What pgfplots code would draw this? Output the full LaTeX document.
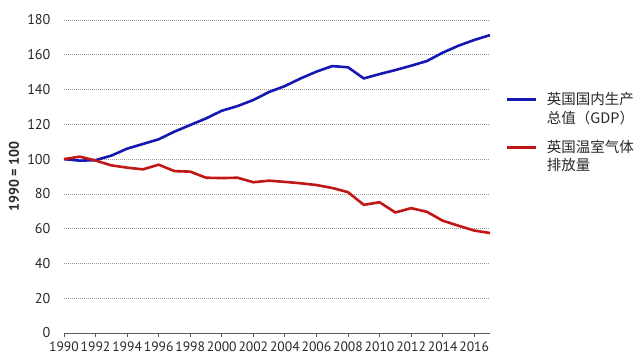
\documentclass[border=0pt]{standalone}
\usepackage{pgfplots}
\pgfplotsset{compat=1.18}
\usepackage{fontspec}
\setmainfont{PT Sans}
\newfontfamily\cjk{Noto Sans CJK SC}
\definecolor{gdpblue}{RGB}{22,22,178}
\definecolor{ghgred}{RGB}{192,22,22}
\definecolor{txt}{RGB}{40,40,40}
\pgfplotstableread{
year gdp ghg
1990 100.0 100.0
1991 99.1 101.4
1992 99.4 99.2
1993 102.0 96.4
1994 106.0 95.1
1995 108.7 94.1
1996 111.4 96.8
1997 115.8 93.1
1998 119.6 92.8
1999 123.4 89.3
2000 127.8 89.1
2001 130.5 89.3
2002 134.0 86.7
2003 138.6 87.6
2004 142.0 86.9
2005 146.4 86.1
2006 150.3 85.1
2007 153.5 83.4
2008 152.8 81.0
2009 146.4 73.7
2010 148.9 75.2
2011 151.2 69.3
2012 153.7 71.8
2013 156.4 69.7
2014 161.2 64.6
2015 165.2 61.7
2016 168.5 58.9
2017 171.3 57.5
}\datatable
\begin{document}
\begin{tikzpicture}
\begin{axis}[
  scale only axis,
  width=426pt, height=313pt,
  xmin=1990, xmax=2017, ymin=0, ymax=180,
  xtick={1990,1992,...,2016},
  ytick={0,20,...,180},
  /pgf/number format/assume math mode=true,
  /pgf/number format/1000 sep={},
  xticklabel style={font=\fontsize{13.6}{15}\selectfont, text=txt, yshift=-1pt},
  yticklabel style={font=\fontsize{14.2}{15}\selectfont, text=txt, xshift=-6pt},
  axis x line*=bottom,
  axis y line*=left,
  y axis line style={draw=none},
  ytick style={draw=none},
  x axis line style={draw=black!65, line width=0.8pt},
  xtick style={draw=black!65, line width=0.8pt},
  tick align=outside,
  major tick length=4pt,
  ymajorgrids,
  major grid style={draw=black!40, line width=0.6pt, dash pattern=on 1pt off 1pt},
  ylabel={\fontsize{14}{15}\selectfont\bfseries 1990 = 100},
  every axis y label/.style={at={(-50pt,0.5)}, rotate=90, anchor=center, text=txt},
  legend style={at={(1.03,0.778)}, anchor=north west, draw=none, fill=none,
    font=\cjk\fontsize{14.5}{18.5}\selectfont, text=txt,
    nodes={align=left, anchor=base west, inner sep=1pt},
    row sep=13pt, column sep=8pt},
  legend cell align=left,
  legend image code/.code={\draw[#1, line width=3pt] (0pt,23.5pt) -- (29pt,23.5pt);},
]
\addplot[gdpblue, line width=2.6pt, line join=round] table[x=year, y=gdp] {\datatable};
\addlegendentry{英国国内生产\\总值（GDP）}
\addplot[ghgred, line width=2.6pt, line join=round] table[x=year, y=ghg] {\datatable};
\addlegendentry{英国温室气体\\排放量}
\end{axis}
\pgfresetboundingbox
\path[use as bounding box] (-64pt,-23pt) rectangle (574pt,333pt);
\end{tikzpicture}
\end{document}
